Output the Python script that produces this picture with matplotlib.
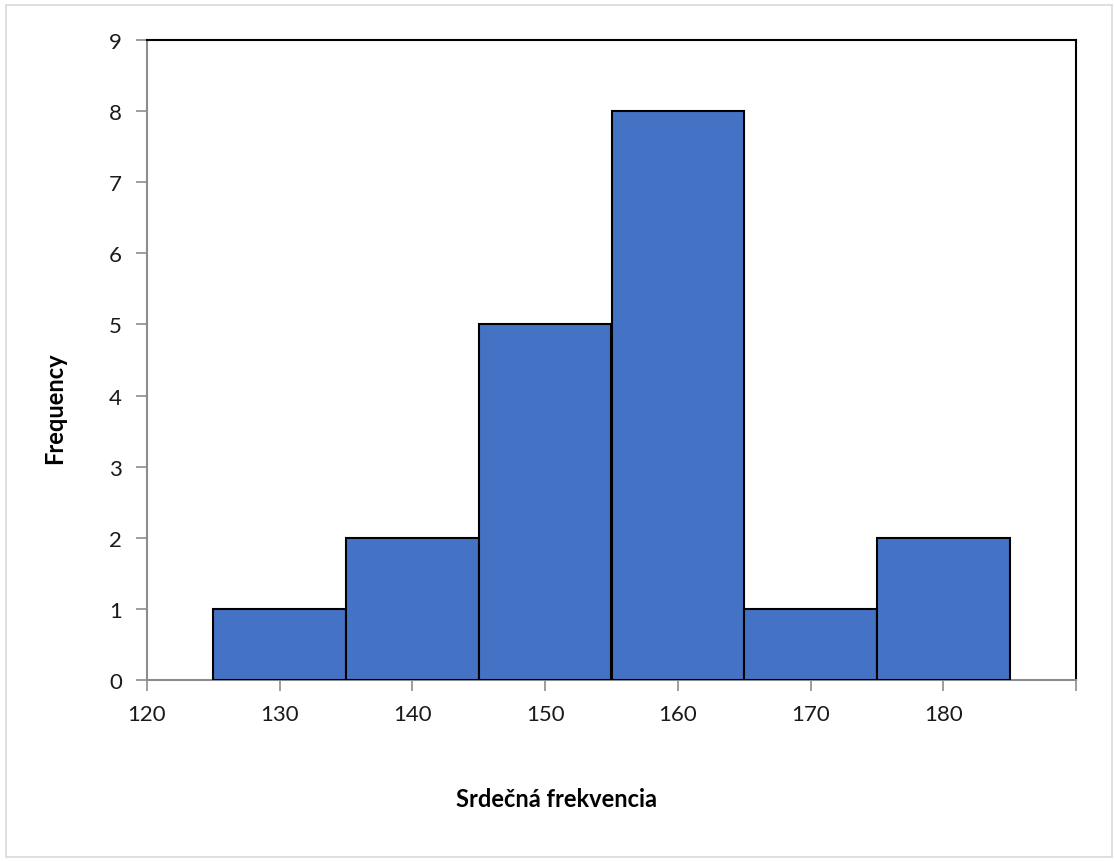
import matplotlib.pyplot as plt
from matplotlib.patches import Rectangle

bin_centers = [130, 140, 150, 160, 170, 180]
counts = [1, 2, 5, 8, 1, 2]
bin_width = 10
x_ticks = [120, 130, 140, 150, 160, 170, 180, 190]
x_labels = ["120", "130", "140", "150", "160", "170", "180", ""]

plt.rcParams['font.family'] = ['Lato', 'DejaVu Sans']

fig = plt.figure(figsize=(11.14, 8.62), dpi=100)
ax = fig.add_axes([147 / 1114, 1 - 681 / 862, (1076 - 147) / 1114, (681 - 41) / 862])

ax.bar(bin_centers, counts, width=bin_width, color="#4472C4",
       edgecolor="black", linewidth=1.5, zorder=3)

ax.set_xlim(120, 190)
ax.set_ylim(0, 9)
ax.set_xticks(x_ticks)
ax.set_xticklabels(x_labels)
ax.set_yticks(range(0, 10))

for side in ["left", "bottom"]:
    ax.spines[side].set_color("#8c8c8c")
    ax.spines[side].set_linewidth(1.5)
for side in ["top", "right"]:
    ax.spines[side].set_color("black")
    ax.spines[side].set_linewidth(1.5)

ax.tick_params(axis="both", direction="out", length=8, width=1.2,
               color="#8c8c8c", labelsize=16, labelcolor="#1a1a1a")
ax.tick_params(axis="x", pad=9)
ax.tick_params(axis="y", pad=10)

fig.text(55 / 1114, 1 - 408 / 862, "Frequency", rotation=90, ha="center",
         va="center", fontsize=17, fontweight="bold")
fig.text(557 / 1114, 1 - 800 / 862, "Srdečná frekvencia", ha="center",
         va="center", fontsize=17, fontweight="bold")

fig.patches.append(Rectangle((6 / 1114, 4 / 862), 1106 / 1114, 852 / 862,
                             transform=fig.transFigure, fill=False,
                             edgecolor="#d9d9d9", linewidth=1.2))

fig.savefig("out.png", dpi=100)
